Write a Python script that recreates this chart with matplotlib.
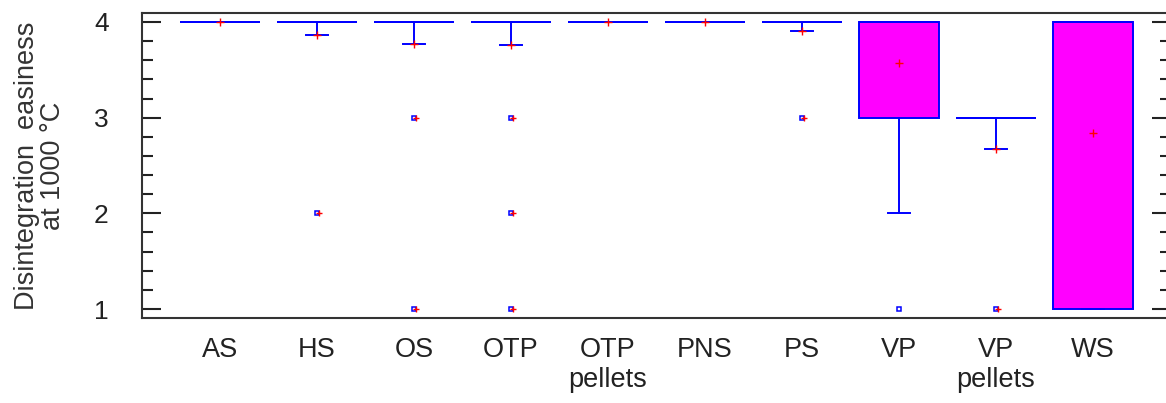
import matplotlib.pyplot as plt
import numpy as np

plt.rcParams['font.family'] = ['Liberation Sans', 'DejaVu Sans']

# data
categories = ['AS', 'HS', 'OS', 'OTP', 'OTP\npellets', 'PNS', 'PS', 'VP', 'VP\npellets', 'WS']
q1 = [4, 4, 4, 4, 4, 4, 4, 3, 3, 1]
q3 = [4, 4, 4, 4, 4, 4, 4, 4, 3, 4]
medians = [4, 4, 4, 4, 4, 4, 4, 4, 3, 4]
whisk_lo = [4, 3.86, 3.775, 3.76, 4, 4, 3.905, 2.0, 2.67, 1]
means = [4, 3.86, 3.775, 3.76, 4, 4, 3.905, 3.57, 2.67, 2.84]
outliers = [[], [2], [3, 1], [3, 2, 1], [], [], [3], [1], [1], []]
# outliers that also carry a red cross
red_outliers = [[], [2], [3, 1], [3, 2, 1], [], [], [3], [], [1], []]

blue = '#0000ff'
text_c = '#222222'

stats = []
for i, c in enumerate(categories):
    stats.append(dict(label=c, q1=q1[i], q3=q3[i], med=medians[i],
                      whislo=whisk_lo[i], whishi=q3[i], fliers=[], mean=means[i]))

fig = plt.figure(figsize=(11.66, 4.03), dpi=100)
ax = fig.add_axes([142 / 1166, 85 / 403, (1171 - 142) / 1166, (318 - 13) / 403])

pos = np.arange(1, len(categories) + 1)
ax.bxp(stats, positions=pos, widths=0.825, capwidths=0.227, patch_artist=True,
       showmeans=False, showfliers=False,
       boxprops=dict(facecolor='#ff00ff', edgecolor=blue, linewidth=1.4),
       medianprops=dict(color=blue, linewidth=1.4),
       whiskerprops=dict(color=blue, linewidth=1.4),
       capprops=dict(color=blue, linewidth=1.4))

# outliers as small hollow blue squares
for p, vals in zip(pos, outliers):
    if vals:
        ax.plot([p] * len(vals), vals, ls='none', marker='s', ms=3, mfc='none',
                mec=blue, mew=1.1, zorder=4)
for p, vals in zip(pos, red_outliers):
    if vals:
        ax.plot([p + 0.02] * len(vals), vals, ls='none', marker='+', ms=5,
                color='red', mew=1, zorder=5)

# means as red crosses
ax.plot(pos, means, ls='none', marker='+', ms=5.5, color='red', mew=1, zorder=5)

ax.set_xlim(0.196, 10.807)
ax.set_ylim(0.906, 4.094)
ax.set_yticks([1, 2, 3, 4])
ax.set_yticks(np.arange(1, 4.01, 0.2), minor=True)
ax.set_xticks(pos)
ax.set_xticklabels(categories, fontsize=19.5, color=text_c, linespacing=1.2)

ax.tick_params(axis='y', which='both', direction='in', left=True, right=True,
               labelsize=19, labelcolor=text_c, pad=24, color='#222222', width=1.5)
ax.tick_params(axis='y', which='major', length=14)
ax.tick_params(axis='y', which='minor', length=8)
ax.tick_params(axis='x', which='both', length=0, pad=14)

for s in ax.spines.values():
    s.set_color('#333333')
    s.set_linewidth(1.5)

ax.set_ylabel('Disintegration  easiness\nat 1000 °C', fontsize=19.5, color='#333333',
              linespacing=1.0, labelpad=20)

fig.savefig('out.png', dpi=100)
